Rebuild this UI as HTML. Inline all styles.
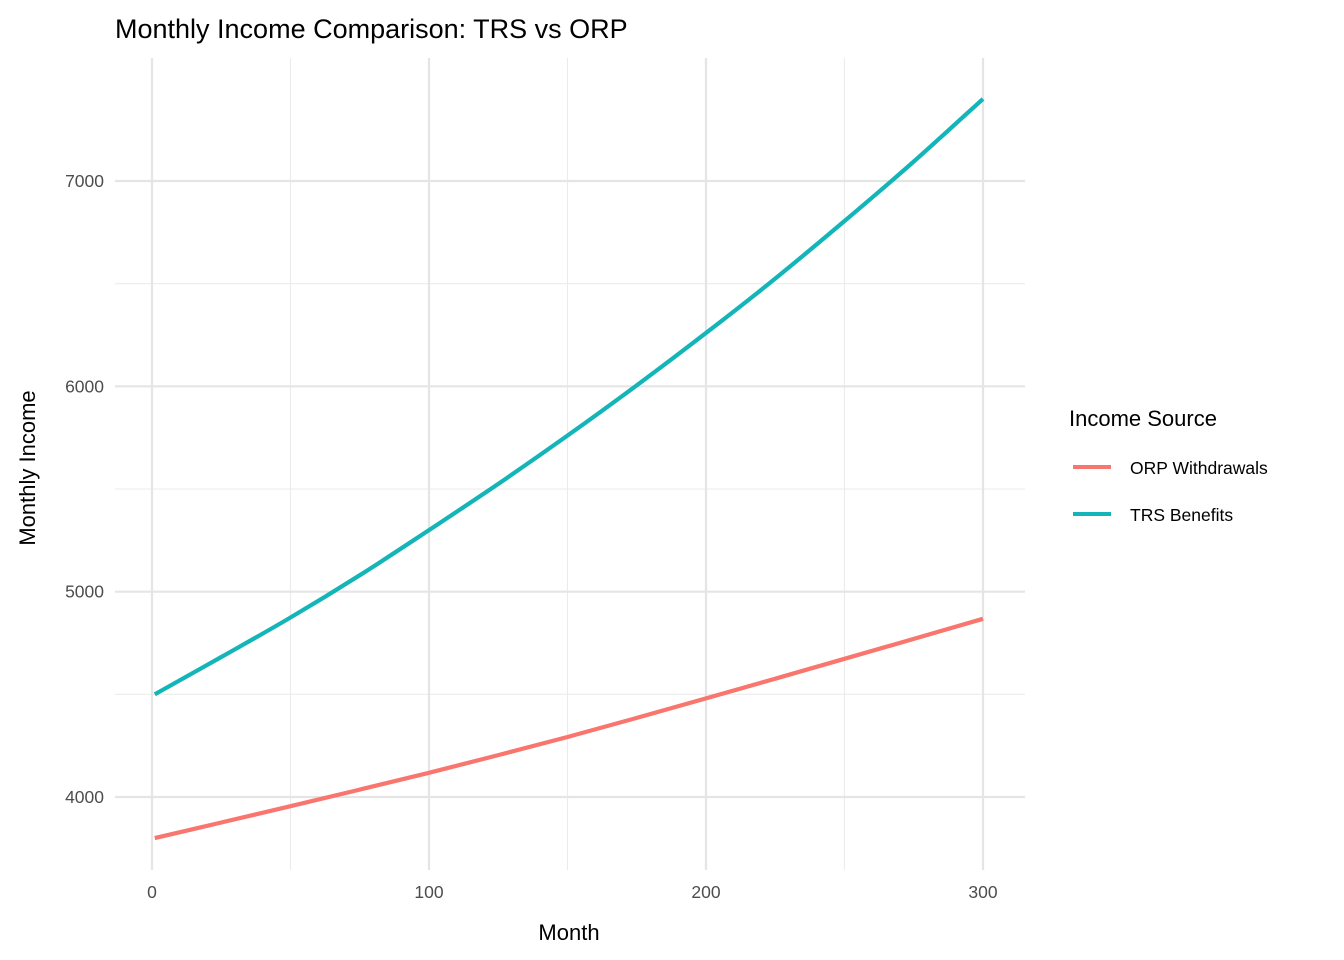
<!DOCTYPE html>
<html><head><meta charset="utf-8"><style>
html,body{margin:0;padding:0;background:#fff}
svg{display:block;font-family:"Liberation Sans",Arial,sans-serif}
</style></head><body>
<svg id="chart" width="1344" height="960" xmlns="http://www.w3.org/2000/svg">
<text x="115" y="38" font-size="27" fill="#000">Monthly Income Comparison: TRS vs ORP</text>
<g id="grid"></g>
<g id="axes"></g>
<g id="lines"></g>
<text x="569" y="940" font-size="22" text-anchor="middle">Month</text>
<text transform="translate(35,468) rotate(-90)" font-size="22" text-anchor="middle">Monthly Income</text>
<g>
<text x="1069" y="426" font-size="22">Income Source</text>
<g><line x1="1073" y1="467" x2="1111" y2="467" stroke="#F8766D" stroke-width="4"/><text x="1130" y="474" font-size="17.5">ORP Withdrawals</text></g>
<g><line x1="1073" y1="514" x2="1111" y2="514" stroke="#14b5b8" stroke-width="4"/><text x="1130" y="521" font-size="17.5">TRS Benefits</text></g>
</g>
</svg>
<script>
const months=[1,25,50,75,100,125,150,175,200,225,250,275,300];
const trsValues=[4500,4682,4874,5080,5300,5525,5760,6005,6260,6525,6805,7095,7400];
const orpValues=[3800,3876,3955,4036,4118,4204,4292,4385,4480,4576,4673,4770,4868];
const xTicks=[0,100,200,300];
const xMinor=[50,150,250];
const yTicks=[4000,5000,6000,7000];
const yMinor=[4500,5500,6500];
const NS="http://www.w3.org/2000/svg";
const X=v=>152+(983-152)*v/300;
const Y=v=>797-(797-181)*(v-4000)/3000;
const L=115,R=1025,T=58,B=870;
function mk(tag,attrs,parent){const e=document.createElementNS(NS,tag);for(const k in attrs)e.setAttribute(k,attrs[k]);parent.appendChild(e);return e;}
const grid=document.getElementById('grid'),axes=document.getElementById('axes'),lines=document.getElementById('lines');
xMinor.forEach(v=>{const e=mk('line',{x1:X(v),x2:X(v),y1:T,y2:B,stroke:'#ebebeb','stroke-width':1.1},grid);

});
yMinor.forEach(v=>{const e=mk('line',{x1:L,x2:R,y1:Y(v),y2:Y(v),stroke:'#ebebeb','stroke-width':1.1},grid);

});
xTicks.forEach(v=>{const e=mk('line',{x1:X(v),x2:X(v),y1:T,y2:B,stroke:'#e5e5e5','stroke-width':2.2},grid);


const t=mk('text',{x:X(v),y:898,'font-size':17.5,fill:'#4d4d4d','text-anchor':'middle'},axes);t.textContent=v;

});
yTicks.forEach(v=>{const e=mk('line',{x1:L,x2:R,y1:Y(v),y2:Y(v),stroke:'#e5e5e5','stroke-width':2.2},grid);


const t=mk('text',{x:104,y:Y(v)+6,'font-size':17.5,fill:'#4d4d4d','text-anchor':'end'},axes);t.textContent=v;

});
function series(vals,color,name){
const P=months.map((m,i)=>[X(m),Y(vals[i])]);
let d='M'+P[0][0].toFixed(1)+','+P[0][1].toFixed(1);
for(let i=0;i<P.length-1;i++){
const p0=P[Math.max(0,i-1)],p1=P[i],p2=P[i+1],p3=P[Math.min(P.length-1,i+2)];
const c1=[p1[0]+(p2[0]-p0[0])/6,p1[1]+(p2[1]-p0[1])/6];
const c2=[p2[0]-(p3[0]-p1[0])/6,p2[1]-(p3[1]-p1[1])/6];
d+=' C'+c1.map(v=>v.toFixed(1)).join(',')+' '+c2.map(v=>v.toFixed(1)).join(',')+' '+p2.map(v=>v.toFixed(1)).join(',');}
const p=mk('path',{d:d,fill:'none',stroke:color,'stroke-width':4.2,'stroke-linejoin':'round'},lines);

}
series(orpValues,'#F8766D','orp-withdrawals-line');
series(trsValues,'#14b5b8','trs-benefits-line');
</script>
</body></html>
